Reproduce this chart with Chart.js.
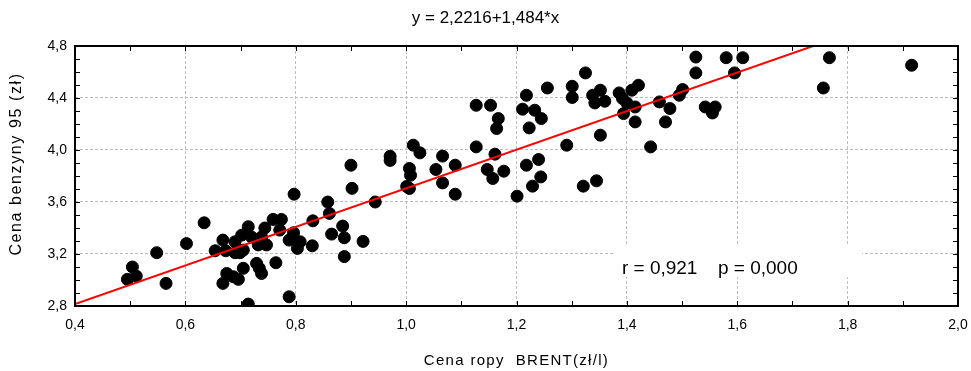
<!DOCTYPE html>
<html>
<head>
<meta charset="utf-8">
<script src="https://cdn.jsdelivr.net/npm/chart.js@4"></script>
<style>
  html, body { margin: 0; padding: 0; background: #fff; }
  #wrap { width: 971px; height: 371px; }
</style>
</head>
<body>
<div id="wrap"><canvas id="myChart" width="971" height="371"></canvas></div>
<script>
// Cena ropy BRENT (zł/l)
const ropa = [
    0.495, 0.504, 0.511, 0.548, 0.565, 0.602, 0.634, 0.654, 0.668, 0.673,
    0.668, 0.675, 0.687, 0.696, 0.690, 0.690, 0.699, 0.705, 0.702, 0.705,
    0.714, 0.714, 0.720, 0.729, 0.734, 0.738, 0.732, 0.738, 0.744, 0.747,
    0.759, 0.774, 0.771, 0.764, 0.788, 0.796, 0.797, 0.788, 0.803, 0.808,
    0.831, 0.830, 0.858, 0.861, 0.865, 0.885, 0.888, 0.888, 0.900, 0.902,
    0.922, 0.944, 0.971, 0.971,
    1.013, 1.025, 1.006, 1.008, 1.001, 1.006, 1.054, 1.066, 1.089, 1.066,
    1.089, 1.127, 1.127, 1.153, 1.167, 1.164, 1.161, 1.147, 1.157, 1.177,
    1.201, 1.218, 1.211, 1.233, 1.245, 1.223, 1.218, 1.240, 1.244, 1.229,
    1.256, 1.301, 1.301, 1.291, 1.325, 1.321, 1.345, 1.338, 1.352, 1.342,
    1.360, 1.352, 1.386, 1.392, 1.400, 1.394, 1.409, 1.421, 1.415, 1.415,
    1.443, 1.459, 1.478, 1.470, 1.495, 1.501, 1.525, 1.525, 1.542, 1.555,
    1.560, 1.580, 1.610, 1.595, 1.767, 1.756, 1.916
];
// Cena benzyny 95 (zł)
const benzyna = [
    3.005, 3.100, 3.030, 3.210, 2.974, 3.280, 3.440, 3.225, 3.307, 3.225,
    2.974, 3.050, 3.025, 3.005, 3.294, 3.210, 3.210, 3.230, 3.345, 3.090,
    3.410, 2.815, 3.330, 3.128, 3.090, 3.050, 3.270, 3.330, 3.400, 3.270,
    3.466, 3.466, 3.384, 3.133, 3.307, 3.363, 3.660, 2.871, 3.243, 3.294,
    3.455, 3.263, 3.600, 3.512, 3.353, 3.415, 3.325, 3.180, 3.883, 3.705,
    3.297, 3.600, 3.952, 3.920,
    4.037, 3.978, 3.858, 3.806, 3.720, 3.704, 3.850, 3.953, 3.883, 3.747,
    3.660, 4.344, 4.024, 4.344, 4.242, 4.165, 3.968, 3.850, 3.781, 3.837,
    3.645, 4.421, 4.314, 4.306, 4.242, 4.170, 3.883, 3.927, 3.793, 3.722,
    4.477, 4.490, 4.404, 4.037, 4.593, 3.722, 3.763, 4.421, 4.460, 4.362,
    4.375, 4.114, 4.439, 4.396, 4.362, 4.280, 4.460, 4.498, 4.331, 4.216,
    4.024, 4.370, 4.319, 4.216, 4.421, 4.465, 4.715, 4.593, 4.331, 4.285,
    4.331, 4.710, 4.710, 4.593, 4.710, 4.477, 4.652
];

// prosta regresji y = 2,2216 + 1,484*x
const wyraz = 2.2216;
const nachylenie = 1.484;
const prostaX = [0.4, 2.0];

const tytul = 'y = 2,2216+1,484*x';
const tekstR = 'r = 0,921';
const tekstP = 'p = 0,000';

const FONT = '"Liberation Sans", Arial, sans-serif';

function przecinek(v) {
    return v.toFixed(1).replace('.', ',');
}
// główne podziałki: x co 0,2 ; y co 0,4
function glownyX(v) {
    return Math.round(v * 10) % 2 === 0;
}
function glownyY(v) {
    return Math.round((v - 2.8) * 10) % 4 === 0;
}

const punkty = ropa.map((x, i) => ({ x: x, y: benzyna[i] }));
const prosta = prostaX.map(x => ({ x: x, y: wyraz + nachylenie * x }));

// Rysowanie ramki, znaczników, tytułów i ramki z r/p
const dodatki = {
    id: 'dodatki',
    beforeDatasetsDraw(chart) {
        const ctx = chart.ctx;
        const xs = chart.scales.x, ys = chart.scales.y;
        // białe pole pod tekstem r / p
        const x0 = xs.getPixelForValue(1.375), x1 = xs.getPixelForValue(1.826);
        const y0 = ys.getPixelForValue(3.276), y1 = ys.getPixelForValue(3.022);
        ctx.save();
        ctx.fillStyle = '#fff';
        ctx.fillRect(x0, y0, x1 - x0, y1 - y0);
        ctx.fillStyle = '#000';
        ctx.font = '19px ' + FONT;
        ctx.textBaseline = 'alphabetic';
        ctx.textAlign = 'left';
        const base = ys.getPixelForValue(3.045);
        ctx.fillText(tekstR, xs.getPixelForValue(1.391), base);
        ctx.fillText(tekstP, xs.getPixelForValue(1.565), base);
        ctx.restore();
    },
    afterDraw(chart) {
        const ctx = chart.ctx;
        const a = chart.chartArea;
        const xs = chart.scales.x, ys = chart.scales.y;
        ctx.save();
        ctx.strokeStyle = '#000';
        ctx.lineWidth = 1;
        const dl = 5;
        ctx.beginPath();
        xs.ticks.forEach(t => {
            const p = Math.round(xs.getPixelForValue(t.value)) + 0.5;
            ctx.moveTo(p, a.bottom); ctx.lineTo(p, a.bottom - dl);
            ctx.moveTo(p, a.top); ctx.lineTo(p, a.top + dl);
        });
        ys.ticks.forEach(t => {
            const p = Math.round(ys.getPixelForValue(t.value)) + 0.5;
            ctx.moveTo(a.left, p); ctx.lineTo(a.left + dl, p);
            ctx.moveTo(a.right, p); ctx.lineTo(a.right - dl, p);
        });
        ctx.stroke();
        ctx.lineWidth = 2;
        ctx.strokeRect(a.left, a.top, a.right - a.left, a.bottom - a.top);

        // tytuł
        ctx.fillStyle = '#000';
        ctx.font = '17px ' + FONT;
        ctx.textAlign = 'center';
        ctx.textBaseline = 'middle';
        ctx.fillText(tytul, chart.width / 2, 18);

        // opisy osi
        ctx.font = '15px ' + FONT;
        ctx.letterSpacing = '1.3px';
        ctx.fillText('Cena ropy  BRENT(zł/l)', (a.left + a.right) / 2, 361);
        ctx.font = '16px ' + FONT;
        ctx.letterSpacing = '1.6px';
        ctx.translate(17, 164);
        ctx.rotate(-Math.PI / 2);
        ctx.fillText('Cena benzyny 95 (zł)', 0, 0);
        ctx.restore();
    }
};

const config = {
    type: 'scatter',
    data: {
        datasets: [{
            type: 'line',
            label: 'regresja',
            data: prosta,
            borderColor: '#ff0000',
            borderWidth: 2,
            pointRadius: 0,
            fill: false,
            order: 1
        }, {
            label: 'dane',
            data: punkty,
            backgroundColor: '#000',
            borderColor: '#000',
            pointRadius: 6,
            pointHoverRadius: 6,
            order: 2
        }]
    },
    options: {
        responsive: false,
        animation: false,
        events: [],
        layout: { padding: { top: 46, right: 13, left: 0, bottom: 0 } },
        plugins: {
            legend: { display: false },
            tooltip: { enabled: false }
        },
        scales: {
            x: {
                type: 'linear',
                min: 0.4,
                max: 2.0,
                afterFit: s => { s.height = 65; s.paddingLeft = 0; s.paddingRight = 0; },
                ticks: {
                    stepSize: 0.1,
                    autoSkip: false,
                    maxRotation: 0,
                    padding: 11,
                    color: '#000',
                    font: { family: FONT, size: 14 },
                    callback: v => glownyX(v) ? przecinek(v) : ''
                },
                grid: {
                    drawTicks: false,
                    color: c => glownyX(c.tick.value) ? '#bdbdbd' : 'rgba(0,0,0,0)',
                    lineWidth: 1
                },
                border: { display: false, dash: [3, 2] }
            },
            y: {
                type: 'linear',
                min: 2.8,
                max: 4.8,
                afterFit: s => { s.width = 75; s.paddingTop = 0; s.paddingBottom = 0; },
                ticks: {
                    stepSize: 0.1,
                    autoSkip: false,
                    padding: 8,
                    color: '#000',
                    font: { family: FONT, size: 14 },
                    callback: v => glownyY(v) ? przecinek(v) : ''
                },
                grid: {
                    drawTicks: false,
                    color: c => glownyY(c.tick.value) ? '#bdbdbd' : 'rgba(0,0,0,0)',
                    lineWidth: 1
                },
                border: { display: false, dash: [3, 2] }
            }
        }
    },
    plugins: [dodatki]
};

var myChart = new Chart(document.getElementById('myChart'), config);
</script>
</body>
</html>
